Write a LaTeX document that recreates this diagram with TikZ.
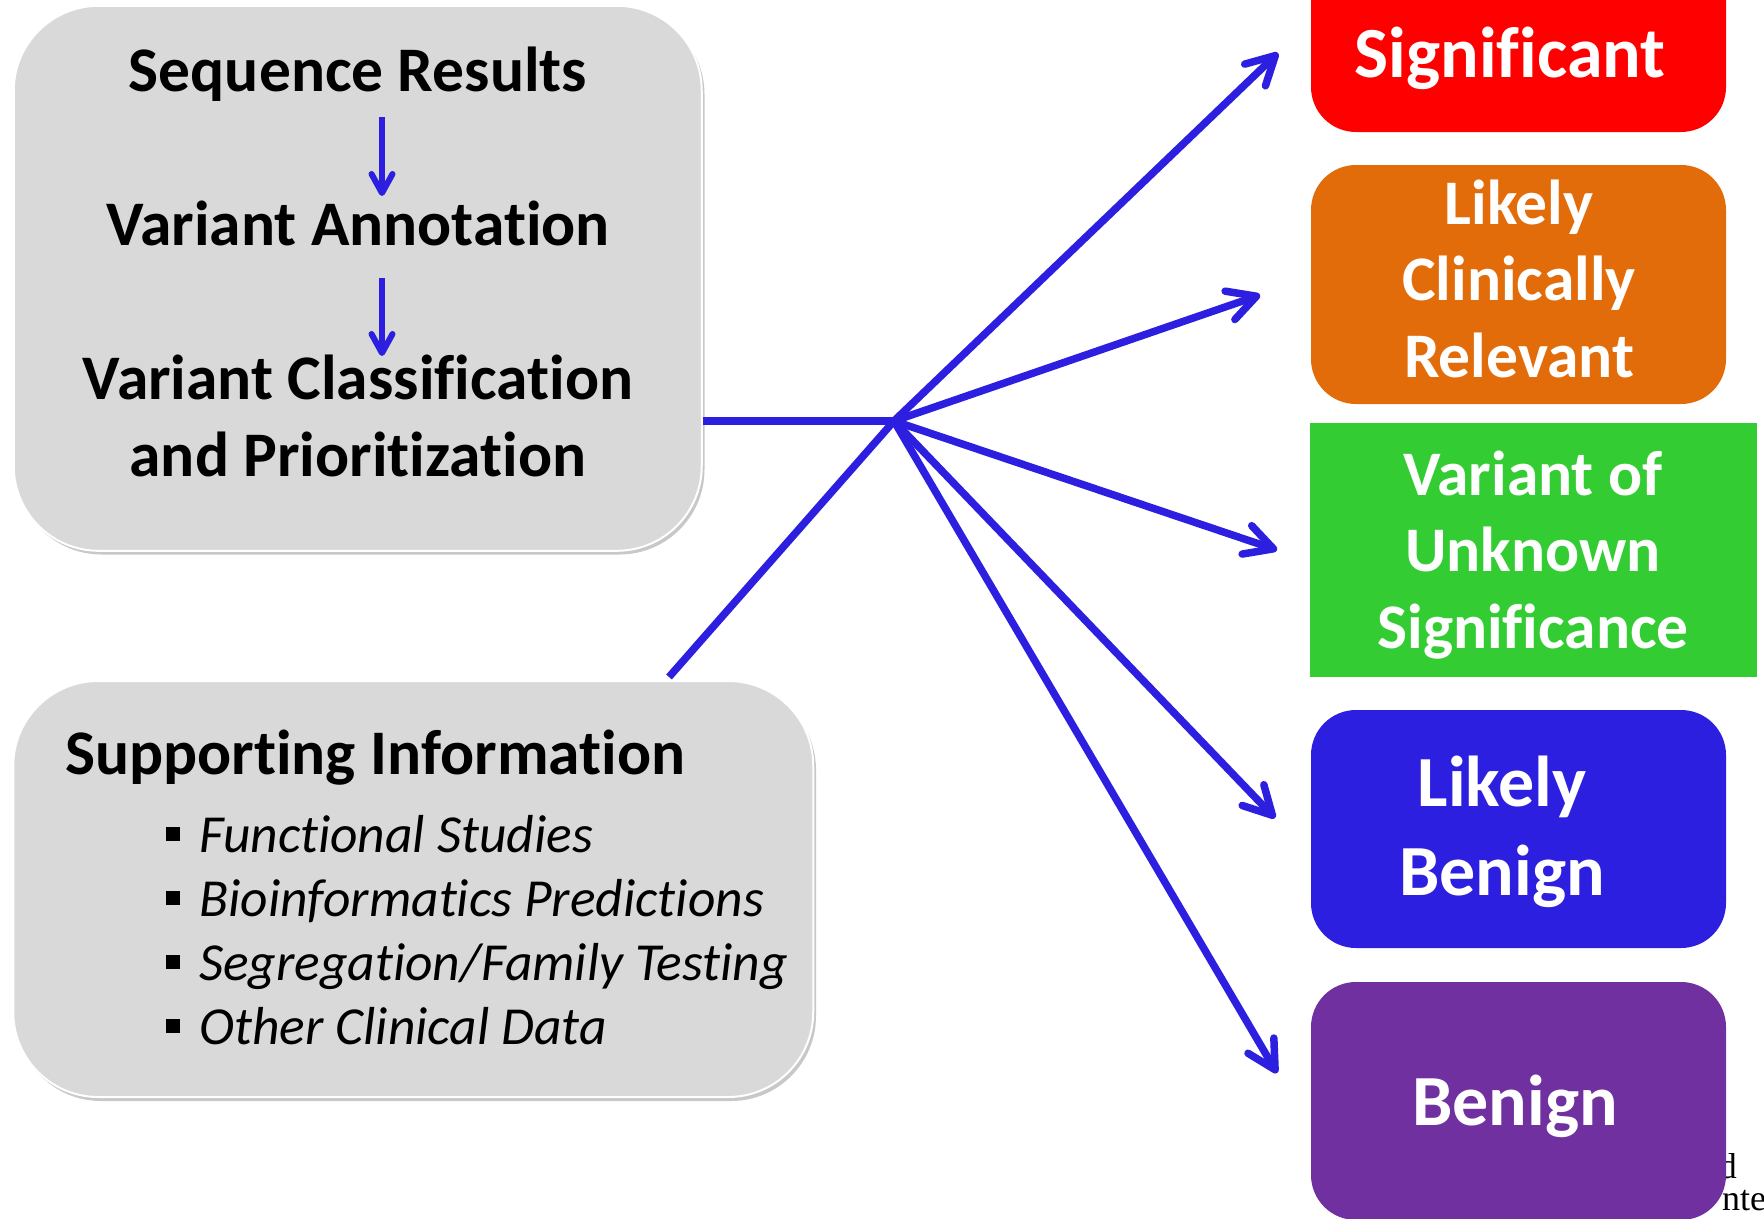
\documentclass[tikz,border=0pt]{standalone}
\usepackage{fontspec}
\setmainfont{Carlito}[Ligatures=NoCommon]
\newfontfamily\serifface{Liberation Serif}
\usetikzlibrary{arrows.meta}
\definecolor{boxgrey}{RGB}{217,217,217}
\definecolor{shadowgrey}{RGB}{200,200,200}
\definecolor{linkblue}{RGB}{45,31,224}
\definecolor{catred}{RGB}{255,0,0}
\definecolor{catorange}{RGB}{227,108,10}
\definecolor{catgreen}{RGB}{51,204,51}
\definecolor{catblue}{RGB}{45,31,224}
\definecolor{catpurple}{RGB}{112,48,160}
\begin{document}
\begin{tikzpicture}[x=1pt,y=-1pt,
  greybox/.style={fill=boxgrey, draw=white, line width=2pt, rounded corners=85pt, inner sep=0},
  shadowbox/.style={fill=shadowgrey, rounded corners=85pt, inner sep=0},
  catbox/.style={rounded corners=45pt, inner sep=0, minimum width=415pt, minimum height=238pt},
  headtext/.style={font=\bfseries\fontsize{63.5}{76}\selectfont, anchor=base, inner sep=0},
  cattext/.style={font=\bfseries\fontsize{63.5}{76}\selectfont, text=white, anchor=base, inner sep=0},
  bigcattext/.style={font=\bfseries\fontsize{72}{88}\selectfont, text=white, anchor=base, inner sep=0},
  itemtext/.style={font=\itshape\fontsize{53.5}{64}\selectfont, anchor=base west, inner sep=0},
  bulletsq/.style={fill=black, minimum size=14pt, inner sep=0},
  link/.style={draw=linkblue, line width=7.5pt},
  linkarrow/.style={link, -{Straight Barb[length=28pt,width=30pt,round]}},
  smallarrow/.style={draw=linkblue, line width=6pt, -{Straight Barb[length=19pt,width=21pt,round]}},
  serifnote/.style={font=\serifface\fontsize{36}{40}\selectfont, inner sep=0}
]
\useasboundingbox (0,0) rectangle (1764,1218);
\clip (0,0) rectangle (1764,1218);
\fill[white] (0,0) rectangle (1764,1218);

% left boxes
\node[shadowbox, minimum width=688pt, minimum height=545pt] (topshadow) at (360.5,282) {};
\node[greybox, minimum width=688pt, minimum height=545pt] (topbox) at (357.75,278.3) {};
\node[shadowbox, minimum width=800pt, minimum height=416pt] (supshadow) at (416,893) {};
\node[greybox, minimum width=800pt, minimum height=416pt] (supbox) at (413.25,889) {};

% top box text
\node[headtext] (seq) at (358,91) {Sequence Results};
\node[headtext] (annot) at (358,245) {Variant Annotation};
\node[headtext] (classif) at (358,399) {Variant Classification};
\node[headtext] (prior) at (358,476) {and Prioritization};
\coordinate (a1s) at (382,117);
\coordinate (a1e) at (382,196);
\coordinate (a2s) at (382,278);
\coordinate (a2e) at (382,356);
\draw[smallarrow] (a1s) -- (a1e);
\draw[smallarrow] (a2s) -- (a2e);

% supporting information
\node[headtext, anchor=base west] (suphead) at (65,774) {Supporting Information};
\node[bulletsq] (b1) at (173,834) {};
\node[bulletsq] (b2) at (173,898) {};
\node[bulletsq] (b3) at (173,962) {};
\node[bulletsq] (b4) at (173,1026) {};
\node[itemtext] (i1) at (199,852) {Functional Studies};
\node[itemtext] (i2) at (199,916) {Bioinformatics Predictions};
\node[itemtext] (i3) at (199,980) {Segregation/Family Testing};
\node[itemtext] (i4) at (199,1044) {Other Clinical Data};

% serif fragments behind purple box
\node[serifnote, anchor=base east] (fragd) at (1737,1178) {d};
\node[serifnote, anchor=base west] (fragnte) at (1722,1210) {nte};

% category boxes
\node[catbox, fill=catred] (redbox) at (1518.5,13) {};
\node[catbox, fill=catorange, minimum height=239pt] (orangebox) at (1518.5,284.5) {};
\node[fill=catgreen, minimum width=447pt, minimum height=254pt, inner sep=0] (greenbox) at (1533.5,550) {};
\node[catbox, fill=catblue] (bluebox) at (1518.5,829) {};
\node[catbox, fill=catpurple] (purplebox) at (1518.5,1101) {};

\node[bigcattext] (red1) at (1510,-12) {Clinically};
\node[bigcattext] (red2) at (1510,77) {Significant};
\node[cattext] (or1) at (1519,224) {Likely};
\node[cattext] (or2) at (1519,300) {Clinically};
\node[cattext] (or3) at (1519,377) {Relevant};
\node[cattext] (gr1) at (1533,495) {Variant of};
\node[cattext] (gr2) at (1533,571) {Unknown};
\node[cattext] (gr3) at (1533,648) {Significance};
\node[bigcattext] (bl1) at (1502,806) {Likely};
\node[bigcattext] (bl2) at (1502,895) {Benign};
\node[bigcattext] (pu1) at (1515,1125) {Benign};

% connectors
\coordinate (hub) at (894,421);
\coordinate (supjoin) at (669,677);
\coordinate (tipred) at (1278,53);
\coordinate (tiporange) at (1260,295);
\coordinate (tipgreen) at (1277,550);
\coordinate (tipblue) at (1275,818);
\coordinate (tippurple) at (1277,1073);
\draw[link] (topbox.east |- hub) -- (hub);
\draw[link] (supjoin) -- (hub);
\draw[linkarrow] (hub) -- (tipred);
\draw[linkarrow] (hub) -- (tiporange);
\draw[linkarrow] (hub) -- (tipgreen);
\draw[linkarrow] (hub) -- (tipblue);
\draw[linkarrow] (hub) -- (tippurple);
\end{tikzpicture}
\end{document}
